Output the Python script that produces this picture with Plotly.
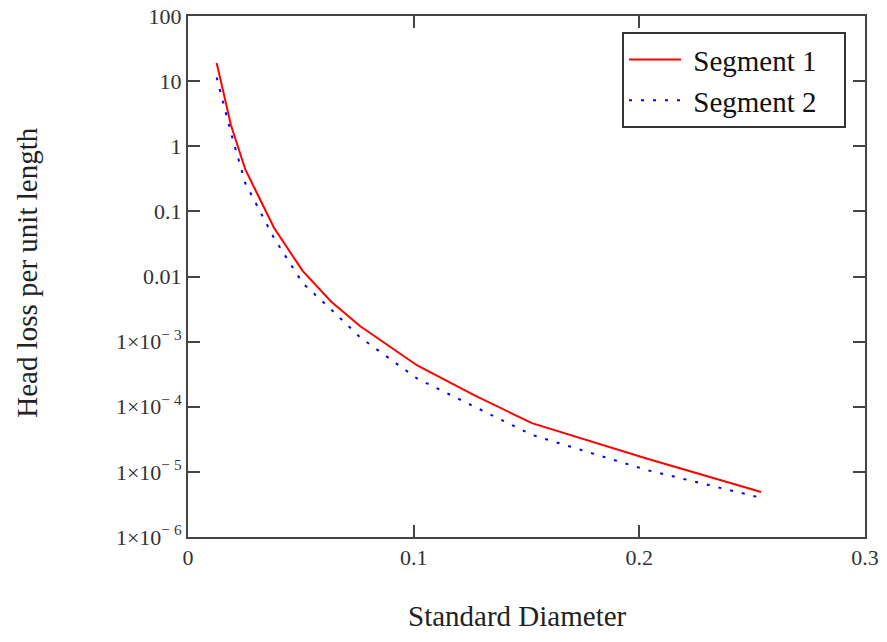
import plotly.graph_objects as go

diameter = [0.0127, 0.01905, 0.0254, 0.0381, 0.0508, 0.0635, 0.0762, 0.1016, 0.127, 0.1524, 0.2032, 0.254]
segment1 = [19, 2.1, 0.44, 0.056, 0.0122, 0.0041, 0.00174, 4.3e-4, 1.5e-4, 5.6e-5, 1.6e-5, 4.9e-6]
segment2 = [11.4, 1.6, 0.27, 0.039, 0.0079, 0.0031, 0.00117, 2.7e-4, 1.0e-4, 3.7e-5, 1.07e-5, 4.0e-6]

x_ticks = [0, 0.1, 0.2, 0.3]
x_tick_labels = ["0", "0.1", "0.2", "0.3"]
y_ticks = [1e-6, 1e-5, 1e-4, 1e-3, 1e-2, 1e-1, 1, 10, 100]
y_tick_labels = ["1×10<sup>− 6</sup>", "1×10<sup>− 5</sup>", "1×10<sup>− 4</sup>", "1×10<sup>− 3</sup>",
                 "0.01", "0.1", "1", "10", "100"]

FONT = "Liberation Serif, Times New Roman, serif"
AXC = "#444444"
NB = "\u00a0"

fig = go.Figure()
fig.add_trace(go.Scatter(x=diameter, y=segment1, mode="lines", name=NB + "Segment 1" + NB * 3,
                         line=dict(color="#ff0000", width=2)))
fig.add_trace(go.Scatter(x=diameter, y=segment2, mode="lines", name=NB + "Segment 2" + NB * 3,
                         line=dict(color="#0000ff", width=2, dash="3px,9px")))

# page body has an 8px default margin, so the figure is sized to fit the 887x642 window
fig.update_layout(
    width=871, height=626,
    margin=dict(l=180, r=14, t=8, b=97, autoexpand=False),
    paper_bgcolor="white", plot_bgcolor="white",
    font=dict(family=FONT, color="#222222"),
    showlegend=True,
    legend=dict(x=0.972, y=0.969, xanchor="right", yanchor="top",
                bordercolor="#333333", borderwidth=2, bgcolor="white",
                font=dict(family=FONT, size=29, color="#111111"),
                itemwidth=52, tracegroupgap=0),
    xaxis=dict(range=[0, 0.3], tickvals=x_ticks, ticktext=x_tick_labels, automargin=False,
               showgrid=False, zeroline=False, showline=True, linecolor=AXC, linewidth=2,
               mirror="allticks", ticks="inside", ticklen=12, tickwidth=2, tickcolor=AXC,
               ticklabeloverflow="allow",
               tickfont=dict(family=FONT, size=22, color="#333333")),
    yaxis=dict(type="log", range=[-6, 2], tickvals=y_ticks, ticktext=y_tick_labels, automargin=False,
               showgrid=False, zeroline=False, showline=True, linecolor=AXC, linewidth=2,
               mirror="allticks", ticks="inside", ticklen=12, tickwidth=2, tickcolor=AXC,
               ticklabeloverflow="allow",
               tickfont=dict(family=FONT, size=22, color="#333333")),
    annotations=[
        dict(text="Standard Diameter", xref="paper", yref="paper", x=0.487, y=-0.186,
             xanchor="center", yanchor="bottom",
             showarrow=False, font=dict(family=FONT, size=29, color="#222222")),
        dict(text="Head loss per unit length", xref="paper", yref="paper", x=-0.238, y=0.507,
             xanchor="center", yanchor="middle",
             showarrow=False, textangle=-90, font=dict(family=FONT, size=29, color="#222222")),
    ],
)

fig.write_html("out.html")
